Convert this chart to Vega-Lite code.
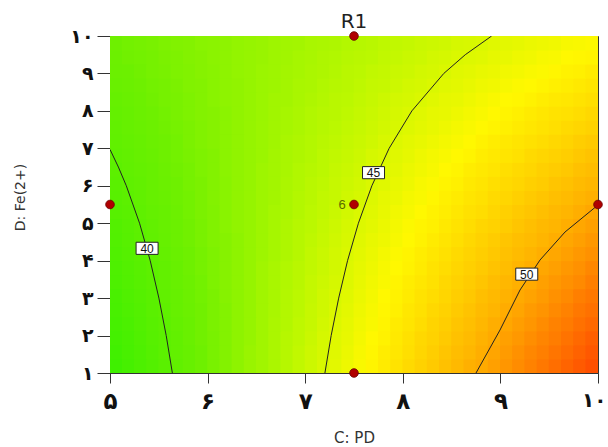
{
  "$schema": "https://vega.github.io/schema/vega-lite/v6.json",
  "width": 488,
  "height": 337,
  "autosize": {"type": "none"},
  "padding": {"left": 110, "top": 36, "right": 10, "bottom": 74},
  "background": "white",
  "title": {"text": "R1", "font": "DejaVu Sans", "fontSize": 20, "fontWeight": "normal", "color": "#222", "anchor": "middle", "frame": "group", "baseline": "alphabetic", "offset": 6, "dy": 27},
  "config": {
    "view": {"stroke": "#333", "strokeWidth": 1},
    "axis": {"grid": false, "domainColor": "#333", "tickColor": "#333", "labelFont": "DejaVu Sans", "labelFontWeight": "bold", "labelFontSize": 19, "labelColor": "#111", "titleFont": "DejaVu Sans", "titleFontWeight": "normal", "titleColor": "#333", "titleFontSize": 14, "labelFlush": false, "labelOverlap": false}
  },
  "datasets": {
    "grid": [
      {"y": 1.1875, "x": [5.0625,5.1875,5.3125,5.4375,5.5625,5.6875,5.8125,5.9375,6.0625,6.1875,6.3125,6.4375,6.5625,6.6875,6.8125,6.9375,7.0625,7.1875,7.3125,7.4375,7.5625,7.6875,7.8125,7.9375,8.0625,8.1875,8.3125,8.4375,8.5625,8.6875,8.8125,8.9375,9.0625,9.1875,9.3125,9.4375,9.5625,9.6875,9.8125,9.9375], "v": [38.2,38.6,39.0,39.4,39.8,40.2,40.6,41.0,41.4,41.8,42.2,42.6,42.9,43.3,43.7,44.1,44.5,44.9,45.3,45.7,46.1,46.5,46.9,47.3,47.7,48.1,48.5,48.9,49.3,49.7,50.0,50.4,50.8,51.2,51.6,52.0,52.4,52.8,53.2,53.6]},
      {"y": 1.5625, "x": [5.0625,5.1875,5.3125,5.4375,5.5625,5.6875,5.8125,5.9375,6.0625,6.1875,6.3125,6.4375,6.5625,6.6875,6.8125,6.9375,7.0625,7.1875,7.3125,7.4375,7.5625,7.6875,7.8125,7.9375,8.0625,8.1875,8.3125,8.4375,8.5625,8.6875,8.8125,8.9375,9.0625,9.1875,9.3125,9.4375,9.5625,9.6875,9.8125,9.9375], "v": [38.3,38.7,39.1,39.5,39.9,40.3,40.6,41.0,41.4,41.8,42.2,42.6,42.9,43.3,43.7,44.1,44.5,44.8,45.2,45.6,46.0,46.4,46.8,47.1,47.5,47.9,48.3,48.7,49.1,49.4,49.8,50.2,50.6,51.0,51.4,51.7,52.1,52.5,52.9,53.3]},
      {"y": 1.9375, "x": [5.0625,5.1875,5.3125,5.4375,5.5625,5.6875,5.8125,5.9375,6.0625,6.1875,6.3125,6.4375,6.5625,6.6875,6.8125,6.9375,7.0625,7.1875,7.3125,7.4375,7.5625,7.6875,7.8125,7.9375,8.0625,8.1875,8.3125,8.4375,8.5625,8.6875,8.8125,8.9375,9.0625,9.1875,9.3125,9.4375,9.5625,9.6875,9.8125,9.9375], "v": [38.5,38.8,39.2,39.6,39.9,40.3,40.7,41.1,41.4,41.8,42.2,42.5,42.9,43.3,43.7,44.0,44.4,44.8,45.2,45.5,45.9,46.3,46.6,47.0,47.4,47.8,48.1,48.5,48.9,49.2,49.6,50.0,50.4,50.7,51.1,51.5,51.8,52.2,52.6,53.0]},
      {"y": 2.3125, "x": [5.0625,5.1875,5.3125,5.4375,5.5625,5.6875,5.8125,5.9375,6.0625,6.1875,6.3125,6.4375,6.5625,6.6875,6.8125,6.9375,7.0625,7.1875,7.3125,7.4375,7.5625,7.6875,7.8125,7.9375,8.0625,8.1875,8.3125,8.4375,8.5625,8.6875,8.8125,8.9375,9.0625,9.1875,9.3125,9.4375,9.5625,9.6875,9.8125,9.9375], "v": [38.6,38.9,39.3,39.7,40.0,40.4,40.7,41.1,41.5,41.8,42.2,42.5,42.9,43.3,43.6,44.0,44.3,44.7,45.1,45.4,45.8,46.1,46.5,46.9,47.2,47.6,48.0,48.3,48.7,49.0,49.4,49.8,50.1,50.5,50.8,51.2,51.6,51.9,52.3,52.6]},
      {"y": 2.6875, "x": [5.0625,5.1875,5.3125,5.4375,5.5625,5.6875,5.8125,5.9375,6.0625,6.1875,6.3125,6.4375,6.5625,6.6875,6.8125,6.9375,7.0625,7.1875,7.3125,7.4375,7.5625,7.6875,7.8125,7.9375,8.0625,8.1875,8.3125,8.4375,8.5625,8.6875,8.8125,8.9375,9.0625,9.1875,9.3125,9.4375,9.5625,9.6875,9.8125,9.9375], "v": [38.7,39.1,39.4,39.8,40.1,40.5,40.8,41.1,41.5,41.8,42.2,42.5,42.9,43.2,43.6,43.9,44.3,44.6,45.0,45.3,45.7,46.0,46.4,46.7,47.1,47.4,47.8,48.1,48.5,48.8,49.2,49.5,49.9,50.2,50.6,50.9,51.3,51.6,52.0,52.3]},
      {"y": 3.0625, "x": [5.0625,5.1875,5.3125,5.4375,5.5625,5.6875,5.8125,5.9375,6.0625,6.1875,6.3125,6.4375,6.5625,6.6875,6.8125,6.9375,7.0625,7.1875,7.3125,7.4375,7.5625,7.6875,7.8125,7.9375,8.0625,8.1875,8.3125,8.4375,8.5625,8.6875,8.8125,8.9375,9.0625,9.1875,9.3125,9.4375,9.5625,9.6875,9.8125,9.9375], "v": [38.8,39.2,39.5,39.8,40.2,40.5,40.9,41.2,41.5,41.9,42.2,42.5,42.9,43.2,43.6,43.9,44.2,44.6,44.9,45.2,45.6,45.9,46.3,46.6,46.9,47.3,47.6,47.9,48.3,48.6,49.0,49.3,49.6,50.0,50.3,50.6,51.0,51.3,51.7,52.0]},
      {"y": 3.4375, "x": [5.0625,5.1875,5.3125,5.4375,5.5625,5.6875,5.8125,5.9375,6.0625,6.1875,6.3125,6.4375,6.5625,6.6875,6.8125,6.9375,7.0625,7.1875,7.3125,7.4375,7.5625,7.6875,7.8125,7.9375,8.0625,8.1875,8.3125,8.4375,8.5625,8.6875,8.8125,8.9375,9.0625,9.1875,9.3125,9.4375,9.5625,9.6875,9.8125,9.9375], "v": [39.0,39.3,39.6,39.9,40.3,40.6,40.9,41.2,41.6,41.9,42.2,42.5,42.9,43.2,43.5,43.8,44.2,44.5,44.8,45.1,45.5,45.8,46.1,46.5,46.8,47.1,47.4,47.8,48.1,48.4,48.7,49.1,49.4,49.7,50.0,50.4,50.7,51.0,51.3,51.7]},
      {"y": 3.8125, "x": [5.0625,5.1875,5.3125,5.4375,5.5625,5.6875,5.8125,5.9375,6.0625,6.1875,6.3125,6.4375,6.5625,6.6875,6.8125,6.9375,7.0625,7.1875,7.3125,7.4375,7.5625,7.6875,7.8125,7.9375,8.0625,8.1875,8.3125,8.4375,8.5625,8.6875,8.8125,8.9375,9.0625,9.1875,9.3125,9.4375,9.5625,9.6875,9.8125,9.9375], "v": [39.1,39.4,39.7,40.0,40.3,40.6,41.0,41.3,41.6,41.9,42.2,42.5,42.9,43.2,43.5,43.8,44.1,44.4,44.7,45.1,45.4,45.7,46.0,46.3,46.6,46.9,47.3,47.6,47.9,48.2,48.5,48.8,49.1,49.5,49.8,50.1,50.4,50.7,51.0,51.4]},
      {"y": 4.1875, "x": [5.0625,5.1875,5.3125,5.4375,5.5625,5.6875,5.8125,5.9375,6.0625,6.1875,6.3125,6.4375,6.5625,6.6875,6.8125,6.9375,7.0625,7.1875,7.3125,7.4375,7.5625,7.6875,7.8125,7.9375,8.0625,8.1875,8.3125,8.4375,8.5625,8.6875,8.8125,8.9375,9.0625,9.1875,9.3125,9.4375,9.5625,9.6875,9.8125,9.9375], "v": [39.2,39.5,39.8,40.1,40.4,40.7,41.0,41.3,41.6,41.9,42.2,42.5,42.8,43.1,43.4,43.7,44.1,44.4,44.7,45.0,45.3,45.6,45.9,46.2,46.5,46.8,47.1,47.4,47.7,48.0,48.3,48.6,48.9,49.2,49.5,49.8,50.1,50.4,50.7,51.0]},
      {"y": 4.5625, "x": [5.0625,5.1875,5.3125,5.4375,5.5625,5.6875,5.8125,5.9375,6.0625,6.1875,6.3125,6.4375,6.5625,6.6875,6.8125,6.9375,7.0625,7.1875,7.3125,7.4375,7.5625,7.6875,7.8125,7.9375,8.0625,8.1875,8.3125,8.4375,8.5625,8.6875,8.8125,8.9375,9.0625,9.1875,9.3125,9.4375,9.5625,9.6875,9.8125,9.9375], "v": [39.3,39.6,39.9,40.2,40.5,40.8,41.1,41.4,41.7,41.9,42.2,42.5,42.8,43.1,43.4,43.7,44.0,44.3,44.6,44.9,45.2,45.5,45.7,46.0,46.3,46.6,46.9,47.2,47.5,47.8,48.1,48.4,48.7,49.0,49.2,49.5,49.8,50.1,50.4,50.7]},
      {"y": 4.9375, "x": [5.0625,5.1875,5.3125,5.4375,5.5625,5.6875,5.8125,5.9375,6.0625,6.1875,6.3125,6.4375,6.5625,6.6875,6.8125,6.9375,7.0625,7.1875,7.3125,7.4375,7.5625,7.6875,7.8125,7.9375,8.0625,8.1875,8.3125,8.4375,8.5625,8.6875,8.8125,8.9375,9.0625,9.1875,9.3125,9.4375,9.5625,9.6875,9.8125,9.9375], "v": [39.4,39.7,40.0,40.3,40.6,40.8,41.1,41.4,41.7,42.0,42.3,42.5,42.8,43.1,43.4,43.7,43.9,44.2,44.5,44.8,45.1,45.3,45.6,45.9,46.2,46.5,46.7,47.0,47.3,47.6,47.9,48.1,48.4,48.7,49.0,49.3,49.5,49.8,50.1,50.4]},
      {"y": 5.3125, "x": [5.0625,5.1875,5.3125,5.4375,5.5625,5.6875,5.8125,5.9375,6.0625,6.1875,6.3125,6.4375,6.5625,6.6875,6.8125,6.9375,7.0625,7.1875,7.3125,7.4375,7.5625,7.6875,7.8125,7.9375,8.0625,8.1875,8.3125,8.4375,8.5625,8.6875,8.8125,8.9375,9.0625,9.1875,9.3125,9.4375,9.5625,9.6875,9.8125,9.9375], "v": [39.6,39.8,40.1,40.4,40.6,40.9,41.2,41.5,41.7,42.0,42.3,42.5,42.8,43.1,43.3,43.6,43.9,44.1,44.4,44.7,45.0,45.2,45.5,45.8,46.0,46.3,46.6,46.8,47.1,47.4,47.6,47.9,48.2,48.5,48.7,49.0,49.3,49.5,49.8,50.1]},
      {"y": 5.6875, "x": [5.0625,5.1875,5.3125,5.4375,5.5625,5.6875,5.8125,5.9375,6.0625,6.1875,6.3125,6.4375,6.5625,6.6875,6.8125,6.9375,7.0625,7.1875,7.3125,7.4375,7.5625,7.6875,7.8125,7.9375,8.0625,8.1875,8.3125,8.4375,8.5625,8.6875,8.8125,8.9375,9.0625,9.1875,9.3125,9.4375,9.5625,9.6875,9.8125,9.9375], "v": [39.7,39.9,40.2,40.5,40.7,41.0,41.2,41.5,41.8,42.0,42.3,42.5,42.8,43.0,43.3,43.6,43.8,44.1,44.3,44.6,44.8,45.1,45.4,45.6,45.9,46.1,46.4,46.7,46.9,47.2,47.4,47.7,47.9,48.2,48.5,48.7,49.0,49.2,49.5,49.7]},
      {"y": 6.0625, "x": [5.0625,5.1875,5.3125,5.4375,5.5625,5.6875,5.8125,5.9375,6.0625,6.1875,6.3125,6.4375,6.5625,6.6875,6.8125,6.9375,7.0625,7.1875,7.3125,7.4375,7.5625,7.6875,7.8125,7.9375,8.0625,8.1875,8.3125,8.4375,8.5625,8.6875,8.8125,8.9375,9.0625,9.1875,9.3125,9.4375,9.5625,9.6875,9.8125,9.9375], "v": [39.8,40.1,40.3,40.6,40.8,41.0,41.3,41.5,41.8,42.0,42.3,42.5,42.8,43.0,43.3,43.5,43.8,44.0,44.3,44.5,44.7,45.0,45.2,45.5,45.7,46.0,46.2,46.5,46.7,47.0,47.2,47.5,47.7,47.9,48.2,48.4,48.7,48.9,49.2,49.4]},
      {"y": 6.4375, "x": [5.0625,5.1875,5.3125,5.4375,5.5625,5.6875,5.8125,5.9375,6.0625,6.1875,6.3125,6.4375,6.5625,6.6875,6.8125,6.9375,7.0625,7.1875,7.3125,7.4375,7.5625,7.6875,7.8125,7.9375,8.0625,8.1875,8.3125,8.4375,8.5625,8.6875,8.8125,8.9375,9.0625,9.1875,9.3125,9.4375,9.5625,9.6875,9.8125,9.9375], "v": [39.9,40.2,40.4,40.6,40.9,41.1,41.3,41.6,41.8,42.1,42.3,42.5,42.8,43.0,43.2,43.5,43.7,43.9,44.2,44.4,44.6,44.9,45.1,45.3,45.6,45.8,46.0,46.3,46.5,46.8,47.0,47.2,47.5,47.7,47.9,48.2,48.4,48.6,48.9,49.1]},
      {"y": 6.8125, "x": [5.0625,5.1875,5.3125,5.4375,5.5625,5.6875,5.8125,5.9375,6.0625,6.1875,6.3125,6.4375,6.5625,6.6875,6.8125,6.9375,7.0625,7.1875,7.3125,7.4375,7.5625,7.6875,7.8125,7.9375,8.0625,8.1875,8.3125,8.4375,8.5625,8.6875,8.8125,8.9375,9.0625,9.1875,9.3125,9.4375,9.5625,9.6875,9.8125,9.9375], "v": [40.1,40.3,40.5,40.7,41.0,41.2,41.4,41.6,41.8,42.1,42.3,42.5,42.7,43.0,43.2,43.4,43.6,43.9,44.1,44.3,44.5,44.8,45.0,45.2,45.4,45.7,45.9,46.1,46.3,46.5,46.8,47.0,47.2,47.4,47.7,47.9,48.1,48.3,48.6,48.8]},
      {"y": 7.1875, "x": [5.0625,5.1875,5.3125,5.4375,5.5625,5.6875,5.8125,5.9375,6.0625,6.1875,6.3125,6.4375,6.5625,6.6875,6.8125,6.9375,7.0625,7.1875,7.3125,7.4375,7.5625,7.6875,7.8125,7.9375,8.0625,8.1875,8.3125,8.4375,8.5625,8.6875,8.8125,8.9375,9.0625,9.1875,9.3125,9.4375,9.5625,9.6875,9.8125,9.9375], "v": [40.2,40.4,40.6,40.8,41.0,41.2,41.5,41.7,41.9,42.1,42.3,42.5,42.7,42.9,43.2,43.4,43.6,43.8,44.0,44.2,44.4,44.6,44.9,45.1,45.3,45.5,45.7,45.9,46.1,46.3,46.6,46.8,47.0,47.2,47.4,47.6,47.8,48.0,48.3,48.5]},
      {"y": 7.5625, "x": [5.0625,5.1875,5.3125,5.4375,5.5625,5.6875,5.8125,5.9375,6.0625,6.1875,6.3125,6.4375,6.5625,6.6875,6.8125,6.9375,7.0625,7.1875,7.3125,7.4375,7.5625,7.6875,7.8125,7.9375,8.0625,8.1875,8.3125,8.4375,8.5625,8.6875,8.8125,8.9375,9.0625,9.1875,9.3125,9.4375,9.5625,9.6875,9.8125,9.9375], "v": [40.3,40.5,40.7,40.9,41.1,41.3,41.5,41.7,41.9,42.1,42.3,42.5,42.7,42.9,43.1,43.3,43.5,43.7,43.9,44.1,44.3,44.5,44.7,44.9,45.1,45.3,45.5,45.7,45.9,46.1,46.3,46.5,46.7,46.9,47.1,47.3,47.5,47.7,47.9,48.1]},
      {"y": 7.9375, "x": [5.0625,5.1875,5.3125,5.4375,5.5625,5.6875,5.8125,5.9375,6.0625,6.1875,6.3125,6.4375,6.5625,6.6875,6.8125,6.9375,7.0625,7.1875,7.3125,7.4375,7.5625,7.6875,7.8125,7.9375,8.0625,8.1875,8.3125,8.4375,8.5625,8.6875,8.8125,8.9375,9.0625,9.1875,9.3125,9.4375,9.5625,9.6875,9.8125,9.9375], "v": [40.4,40.6,40.8,41.0,41.2,41.4,41.6,41.8,41.9,42.1,42.3,42.5,42.7,42.9,43.1,43.3,43.5,43.7,43.8,44.0,44.2,44.4,44.6,44.8,45.0,45.2,45.4,45.5,45.7,45.9,46.1,46.3,46.5,46.7,46.9,47.1,47.3,47.4,47.6,47.8]},
      {"y": 8.3125, "x": [5.0625,5.1875,5.3125,5.4375,5.5625,5.6875,5.8125,5.9375,6.0625,6.1875,6.3125,6.4375,6.5625,6.6875,6.8125,6.9375,7.0625,7.1875,7.3125,7.4375,7.5625,7.6875,7.8125,7.9375,8.0625,8.1875,8.3125,8.4375,8.5625,8.6875,8.8125,8.9375,9.0625,9.1875,9.3125,9.4375,9.5625,9.6875,9.8125,9.9375], "v": [40.5,40.7,40.9,41.1,41.3,41.4,41.6,41.8,42.0,42.2,42.3,42.5,42.7,42.9,43.0,43.2,43.4,43.6,43.8,43.9,44.1,44.3,44.5,44.7,44.8,45.0,45.2,45.4,45.5,45.7,45.9,46.1,46.3,46.4,46.6,46.8,47.0,47.1,47.3,47.5]},
      {"y": 8.6875, "x": [5.0625,5.1875,5.3125,5.4375,5.5625,5.6875,5.8125,5.9375,6.0625,6.1875,6.3125,6.4375,6.5625,6.6875,6.8125,6.9375,7.0625,7.1875,7.3125,7.4375,7.5625,7.6875,7.8125,7.9375,8.0625,8.1875,8.3125,8.4375,8.5625,8.6875,8.8125,8.9375,9.0625,9.1875,9.3125,9.4375,9.5625,9.6875,9.8125,9.9375], "v": [40.7,40.8,41.0,41.2,41.3,41.5,41.7,41.8,42.0,42.2,42.3,42.5,42.7,42.8,43.0,43.2,43.3,43.5,43.7,43.8,44.0,44.2,44.3,44.5,44.7,44.8,45.0,45.2,45.3,45.5,45.7,45.8,46.0,46.2,46.3,46.5,46.7,46.8,47.0,47.2]},
      {"y": 9.0625, "x": [5.0625,5.1875,5.3125,5.4375,5.5625,5.6875,5.8125,5.9375,6.0625,6.1875,6.3125,6.4375,6.5625,6.6875,6.8125,6.9375,7.0625,7.1875,7.3125,7.4375,7.5625,7.6875,7.8125,7.9375,8.0625,8.1875,8.3125,8.4375,8.5625,8.6875,8.8125,8.9375,9.0625,9.1875,9.3125,9.4375,9.5625,9.6875,9.8125,9.9375], "v": [40.8,40.9,41.1,41.3,41.4,41.6,41.7,41.9,42.0,42.2,42.4,42.5,42.7,42.8,43.0,43.1,43.3,43.4,43.6,43.8,43.9,44.1,44.2,44.4,44.5,44.7,44.8,45.0,45.2,45.3,45.5,45.6,45.8,45.9,46.1,46.2,46.4,46.6,46.7,46.9]},
      {"y": 9.4375, "x": [5.0625,5.1875,5.3125,5.4375,5.5625,5.6875,5.8125,5.9375,6.0625,6.1875,6.3125,6.4375,6.5625,6.6875,6.8125,6.9375,7.0625,7.1875,7.3125,7.4375,7.5625,7.6875,7.8125,7.9375,8.0625,8.1875,8.3125,8.4375,8.5625,8.6875,8.8125,8.9375,9.0625,9.1875,9.3125,9.4375,9.5625,9.6875,9.8125,9.9375], "v": [40.9,41.1,41.2,41.3,41.5,41.6,41.8,41.9,42.1,42.2,42.4,42.5,42.6,42.8,42.9,43.1,43.2,43.4,43.5,43.7,43.8,43.9,44.1,44.2,44.4,44.5,44.7,44.8,45.0,45.1,45.2,45.4,45.5,45.7,45.8,46.0,46.1,46.3,46.4,46.5]},
      {"y": 9.8125, "x": [5.0625,5.1875,5.3125,5.4375,5.5625,5.6875,5.8125,5.9375,6.0625,6.1875,6.3125,6.4375,6.5625,6.6875,6.8125,6.9375,7.0625,7.1875,7.3125,7.4375,7.5625,7.6875,7.8125,7.9375,8.0625,8.1875,8.3125,8.4375,8.5625,8.6875,8.8125,8.9375,9.0625,9.1875,9.3125,9.4375,9.5625,9.6875,9.8125,9.9375], "v": [41.0,41.2,41.3,41.4,41.6,41.7,41.8,42.0,42.1,42.2,42.4,42.5,42.6,42.8,42.9,43.0,43.2,43.3,43.4,43.6,43.7,43.8,44.0,44.1,44.2,44.4,44.5,44.6,44.8,44.9,45.0,45.2,45.3,45.4,45.6,45.7,45.8,46.0,46.1,46.2]}
    ],
    "contours": [
      {"level": "40", "x": 5.639, "y": 1}, {"level": "40", "x": 5.576, "y": 2}, {"level": "40", "x": 5.501, "y": 3}, {"level": "40", "x": 5.412, "y": 4}, {"level": "40", "x": 5.303, "y": 5}, {"level": "40", "x": 5.167, "y": 6}, {"level": "40", "x": 5.086, "y": 6.5}, {"level": "40", "x": 5.0, "y": 6.97},
      {"level": "45", "x": 7.202, "y": 1}, {"level": "45", "x": 7.266, "y": 2}, {"level": "45", "x": 7.343, "y": 3}, {"level": "45", "x": 7.434, "y": 4}, {"level": "45", "x": 7.545, "y": 5}, {"level": "45", "x": 7.683, "y": 6}, {"level": "45", "x": 7.86, "y": 7}, {"level": "45", "x": 8.093, "y": 8}, {"level": "45", "x": 8.42, "y": 9}, {"level": "45", "x": 8.64, "y": 9.5}, {"level": "45", "x": 8.91, "y": 10},
      {"level": "50", "x": 8.75, "y": 1}, {"level": "50", "x": 8.996, "y": 2.148}, {"level": "50", "x": 9.201, "y": 3.217}, {"level": "50", "x": 9.406, "y": 4.018}, {"level": "50", "x": 9.662, "y": 4.765}, {"level": "50", "x": 10.0, "y": 5.487}
    ],
    "labels": [
      {"t": "40", "x": 5.38, "y": 4.33},
      {"t": "45", "x": 7.7, "y": 6.35},
      {"t": "50", "x": 9.27, "y": 3.64}
    ],
    "design": [
      {"x": 5, "y": 5.5}, {"x": 7.5, "y": 10}, {"x": 7.5, "y": 5.5}, {"x": 10, "y": 5.5}, {"x": 7.5, "y": 1}
    ],
    "center": [{"x": 7.5, "y": 5.5, "t": "6"}]
  },
  "encoding": {
    "x": {"field": "x", "type": "quantitative", "scale": {"domain": [5, 10], "nice": false, "zero": false},
      "axis": {"values": [5, 6, 7, 8, 9, 10], "labelExpr": "['۰','۱','۲','۳','۴','۵','۶','۷','۸','۹','۱۰'][datum.value]", "title": "C: PD", "labelFontSize": {"condition": {"test": "datum.value == 10", "value": 20}, "value": 23}, "labelAlign": {"condition": {"test": "datum.value == 10", "value": "right"}, "value": "center"}, "labelOffset": {"condition": {"test": "datum.value == 10", "value": 8}, "value": 0}, "titleFontSize": 15, "tickSize": 10, "labelPadding": 7, "titleBaseline": "middle", "titleY": 64}},
    "y": {"field": "y", "type": "quantitative", "scale": {"domain": [1, 10], "nice": false, "zero": false},
      "axis": {"values": [1, 2, 3, 4, 5, 6, 7, 8, 9, 10], "labelExpr": "['۰','۱','۲','۳','۴','۵','۶','۷','۸','۹','۱۰'][datum.value]", "title": "D: Fe(2+)", "tickSize": 13, "labelPadding": 4, "titleBaseline": "middle", "titleX": -90, "titleY": 161}}
  },
  "layer": [
    {
      "data": {"name": "grid"},
      "transform": [{"flatten": ["x", "v"]}],
      "mark": {"type": "point", "shape": "M-0.87,-1H0.87V1H-0.87Z", "size": 225, "filled": true, "opacity": 1, "strokeWidth": 0, "clip": true},
      "encoding": {
        "color": {"field": "v", "type": "quantitative", "legend": null,
          "scale": {"type": "linear", "domain": [38, 41, 44, 46.3, 50, 54], "range": ["#3cf000", "#6ef000", "#bef800", "#fff800", "#ffaa00", "#ff4600"], "interpolate": "rgb"}}
      }
    },
    {
      "data": {"name": "contours"},
      "mark": {"type": "line", "color": "#222", "strokeWidth": 1, "clip": true},
      "encoding": {"detail": {"field": "level"}, "order": {"field": "y", "type": "quantitative"}}
    },
    {
      "data": {"name": "labels"},
      "mark": {"type": "point", "shape": "M-1,-0.55H1V0.55H-1Z", "size": 484, "filled": true, "fill": "white", "stroke": "#222", "strokeWidth": 1, "opacity": 1}
    },
    {
      "data": {"name": "labels"},
      "mark": {"type": "text", "font": "Liberation Sans", "fontSize": 12, "color": "#111", "baseline": "middle", "align": "center", "dy": 0.5},
      "encoding": {"text": {"field": "t"}}
    },
    {
      "data": {"name": "design"},
      "mark": {"type": "point", "shape": "circle", "filled": true, "size": 75, "fill": "#b00000", "stroke": "#6a0000", "strokeWidth": 0.8, "opacity": 1}
    },
    {
      "data": {"name": "center"},
      "mark": {"type": "text", "dx": -12, "font": "Liberation Sans", "fontSize": 13, "color": "#5c6b00", "baseline": "middle", "align": "center"},
      "encoding": {"text": {"field": "t"}}
    }
  ]
}
